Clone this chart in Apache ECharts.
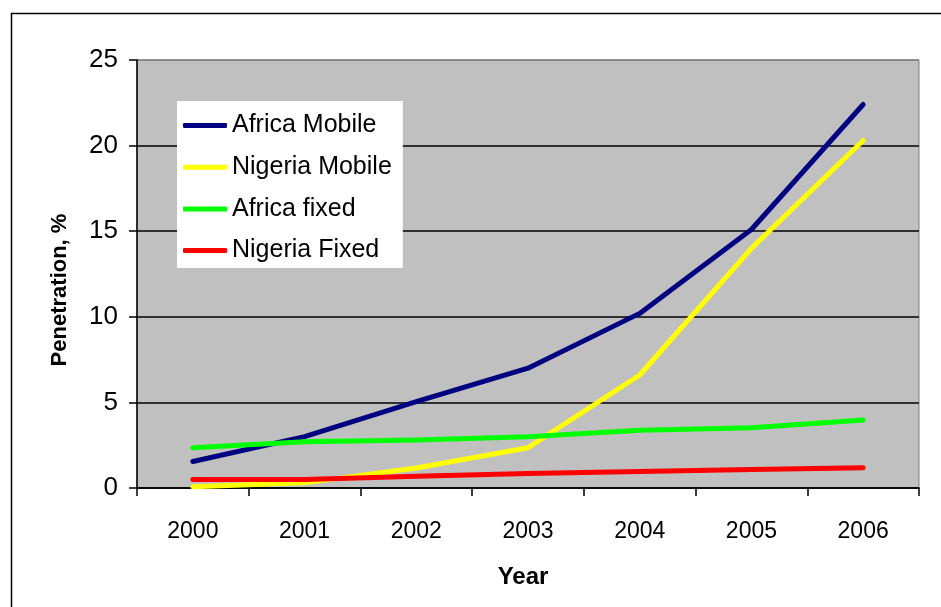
<!DOCTYPE html>
<html>
<head>
<meta charset="utf-8">
<script src="https://cdn.jsdelivr.net/npm/echarts@6/dist/echarts.min.js"></script>
<style>
html,body{margin:0;padding:0;background:#fff;}
#chart{width:941px;height:607px;}
</style>
</head>
<body>
<div id="chart"></div>
<script>
const years = ['2000','2001','2002','2003','2004','2005','2006'];
const africaMobile = [1.55, 3.0, 5.05, 7.0, 10.2, 15.1, 22.4];
const nigeriaMobile = [0.08, 0.3, 1.17, 2.35, 6.6, 14.0, 20.3];
const africaFixed = [2.35, 2.7, 2.8, 3.0, 3.38, 3.52, 3.97];
const nigeriaFixed = [0.5, 0.5, 0.68, 0.85, 0.97, 1.08, 1.19];
const seriesNames = ['Africa Mobile','Nigeria Mobile','Africa fixed','Nigeria Fixed'];
const seriesColors = ['#000080','#ffff00','#00ff00','#ff0000'];
const seriesData = [africaMobile, nigeriaMobile, africaFixed, nigeriaFixed];

const FONT = '"Liberation Sans", Arial, sans-serif';
const chart = echarts.init(document.getElementById('chart'), null, {renderer:'canvas'});
chart.setOption({
  animation: false,
  backgroundColor: '#fff',
  textStyle: {fontFamily: FONT},
  grid: {left:137, right:22, top:60, bottom:119, show:true, backgroundColor:'#c0c0c0', borderColor:'#808080', borderWidth:1},
  legend: {
    orient:'vertical', left:177, top:101,
    backgroundColor:'#fff', padding:[12,11,5,6],
    icon:'roundRect', itemWidth:44, itemHeight:5, itemGap:16.7,
    textStyle:{fontFamily:FONT, fontSize:25, color:'#000', lineHeight:25},
    data: seriesNames
  },
  xAxis: {
    type:'category', data: years, boundaryGap:true,
    axisLine:{show:true, lineStyle:{color:'#000', width:1.5}},
    axisTick:{show:true, length:8, lineStyle:{color:'#000', width:1.5}},
    axisLabel:{fontFamily:FONT, fontSize:23, color:'#000', margin:32},
    splitLine:{show:false}
  },
  yAxis: {
    type:'value', min:0, max:25, interval:5,
    axisLine:{show:true, lineStyle:{color:'#000', width:1.5}},
    axisTick:{show:true, length:8, lineStyle:{color:'#000', width:1.5}},
    axisLabel:{fontFamily:FONT, fontSize:26, color:'#000', margin:19},
    splitLine:{show:true, lineStyle:{color:['#000','#000','#000','#000','#000','#808080'], width:1.5}}
  },
  graphic: [
    {type:'rect', left:9, top:11, shape:{x:0,y:0,width:1000,height:1000}, style:{fill:'none', stroke:'#000', lineWidth:1.5}, silent:true, z:-1},
    {type:'text', x:523, y:577, style:{text:'Year', font:'bold 24px '+FONT, fill:'#000', textAlign:'center', textVerticalAlign:'middle'}},
    {type:'text', x:60, y:290, rotation:Math.PI/2, style:{text:'Penetration, %', font:'bold 22px '+FONT, fill:'#000', textAlign:'center', textVerticalAlign:'middle'}}
  ],
  series: seriesNames.map((n,i)=>({
    name:n, type:'line', data: seriesData[i], symbol:'none',
    itemStyle:{color: seriesColors[i]},
    lineStyle:{color: seriesColors[i], width:5, cap:'round', join:'round'}
  }))
});
</script>
</body>
</html>
